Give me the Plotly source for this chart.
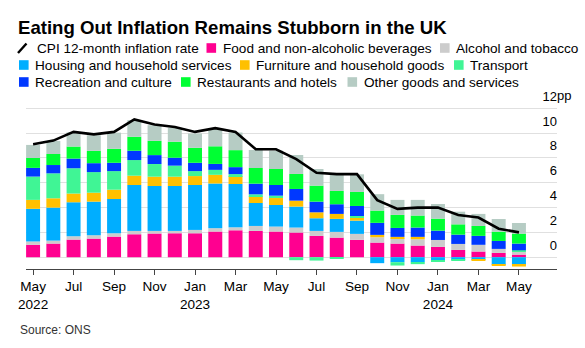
import plotly.graph_objects as go

# ---------------- data ----------------
months = ["May 2022", "Jun 2022", "Jul 2022", "Aug 2022", "Sep 2022", "Oct 2022", "Nov 2022",
          "Dec 2022", "Jan 2023", "Feb 2023", "Mar 2023", "Apr 2023", "May 2023", "Jun 2023",
          "Jul 2023", "Aug 2023", "Sep 2023", "Oct 2023", "Nov 2023", "Dec 2023", "Jan 2024",
          "Feb 2024", "Mar 2024", "Apr 2024", "May 2024"]

cpi = [9.1, 9.4, 10.1, 9.9, 10.1, 11.1, 10.7, 10.5, 10.1, 10.4, 10.1, 8.7, 8.7, 7.9, 6.8,
       6.7, 6.7, 4.6, 3.9, 4.0, 4.0, 3.4, 3.2, 2.3, 2.0]

food = [1.00, 1.10, 1.42, 1.50, 1.66, 1.85, 1.91, 1.93, 1.93, 2.07, 2.17, 2.12, 2.07, 1.99,
        1.72, 1.58, 1.40, 1.18, 1.10, 0.94, 0.83, 0.59, 0.46, 0.35, 0.21]
alcohol = [0.27, 0.24, 0.27, 0.27, 0.27, 0.27, 0.21, 0.19, 0.27, 0.27, 0.24, 0.40, 0.40, 0.40,
           0.40, 0.46, 0.48, 0.43, 0.43, 0.51, 0.56, 0.48, 0.54, 0.32, 0.25]
housing = [2.63, 2.66, 2.74, 2.71, 2.76, 3.70, 3.62, 3.62, 3.62, 3.60, 3.49, 1.85, 1.74, 1.69,
           1.02, 1.05, 1.07, -0.48, -0.40, -0.40, -0.27, -0.21, -0.21, -0.62, -0.62]
furniture = [0.72, 0.75, 0.70, 0.72, 0.75, 0.75, 0.75, 0.75, 0.72, 0.70, 0.64, 0.54, 0.56, 0.48,
             0.48, 0.40, 0.27, 0.19, 0.11, 0.19, 0.0, 0.0, -0.08, -0.08, -0.13]
transport = [1.88, 2.01, 2.04, 1.66, 1.50, 1.26, 1.02, 0.89, 0.40, 0.40, 0.16, 0.16, 0.19, -0.24,
             -0.27, -0.08, 0.10, 0.0, -0.27, -0.16, -0.05, -0.05, 0.0, 0.0, 0.10]
recreation = [0.70, 0.67, 0.78, 0.72, 0.67, 0.75, 0.72, 0.64, 0.67, 0.48, 0.56, 0.86, 0.86, 0.94,
              0.86, 0.78, 0.81, 0.97, 0.72, 0.75, 0.75, 0.75, 0.72, 0.64, 0.54]
restaurants = [0.80, 0.89, 0.97, 0.99, 1.13, 1.13, 1.15, 1.29, 1.21, 1.42, 1.37, 1.26, 1.29, 1.21,
               1.29, 1.07, 1.13, 0.99, 1.05, 0.97, 0.97, 0.83, 0.80, 0.75, 0.80]
other = [1.05, 1.05, 1.15, 1.26, 1.30, 1.34, 1.26, 1.13, 1.15, 1.40, 1.42, 1.45, 1.48, 1.53,
         1.34, 1.29, 1.42, 1.32, 1.21, 1.26, 1.18, 1.02, 0.97, 1.02, 0.86]

cpi_name = "CPI 12-month inflation rate"
series_names = ["Food and non-alcoholic beverages", "Alcohol and tobacco",
                "Housing and household services", "Furniture and household goods", "Transport",
                "Recreation and culture", "Restaurants and hotels", "Other goods and services"]
series_values = [food, alcohol, housing, furniture, transport, recreation, restaurants, other]
series_colors = ["#FF0090", "#CCCCCC", "#00AEFF", "#FFC000", "#40F595", "#0038FF", "#00FF33",
                 "#B6CCC4"]

y_ticks = [0, 2, 4, 6, 8, 10, 12]

# ---------------- layout geometry ----------------
W, H = 585, 348
L, R, T, B = 26, 28, 85, 79
PW, PH = W - L - R, H - T - B
FONT = "Liberation Sans, Arial, sans-serif"


def px_x(px):
    return (px - L) / PW


def px_y(py):
    return (H - B - py) / PH


idx = list(range(len(months)))

fig = go.Figure()
for name, vals, col in zip(series_names, series_values, series_colors):
    fig.add_trace(go.Bar(x=idx, y=vals, name=name, marker=dict(color=col, line=dict(width=0)),
                         width=0.69, showlegend=False))
fig.add_trace(go.Scatter(x=idx, y=cpi, name=cpi_name, mode="lines",
                         line=dict(color="#000000", width=2.6), showlegend=False))

# x tick labels
tickvals, ticktext = [], []
for i in range(0, len(months), 2):
    mon, yr = months[i].split()
    tickvals.append(i)
    ticktext.append(f"{mon}<br>{yr}" if (i == 0 or mon == "Jan") else mon)

annotations = []
shapes = []

# custom legend
legend_slots = [(18, 48), (206.5, 48), (440, 48), (19, 65), (240, 65), (454, 65),
                (19, 82), (181, 82), (347.5, 82)]
legend_entries = [(cpi_name, "#000000")] + list(zip(series_names, series_colors))
for k, ((name, col), (sx, sy)) in enumerate(zip(legend_entries, legend_slots)):
    if k == 0:
        shapes.append(dict(type="line", xref="paper", yref="paper",
                           x0=px_x(sx), y0=px_y(sy + 5), x1=px_x(sx + 8.5), y1=px_y(sy - 4.5),
                           line=dict(color=col, width=2.4)))
        tx = sx + 17
    else:
        shapes.append(dict(type="rect", xref="paper", yref="paper",
                           x0=px_x(sx), y0=px_y(sy + 4.8), x1=px_x(sx + 9.6), y1=px_y(sy - 4.8),
                           fillcolor=col, line=dict(width=0)))
        tx = sx + 14
    annotations.append(dict(text=name, xref="paper", yref="paper", x=px_x(tx), y=px_y(sy + 0.5),
                            xanchor="left", yanchor="middle", showarrow=False,
                            font=dict(family=FONT, size=13.6, color="#000000")))

# "pp" unit after the top tick label
annotations.append(dict(text="pp", xref="paper", yref="y", x=1.0, y=y_ticks[-1], xanchor="left",
                        yanchor="bottom", showarrow=False, xshift=-2, yshift=3,
                        font=dict(family=FONT, size=13, color="#000000")))

# source
annotations.append(dict(text="Source: ONS", xref="paper", yref="paper", x=px_x(18), y=px_y(330),
                        xanchor="left", yanchor="middle", showarrow=False,
                        font=dict(family=FONT, size=12, color="#333333")))

# gap in gridlines before the labels
shapes.append(dict(type="rect", xref="paper", yref="paper", x0=px_x(532), x1=px_x(539),
                   y0=px_y(268), y1=1.0, fillcolor="#FFFFFF", line=dict(width=0),
                   layer="between"))

fig.update_layout(
    width=W, height=H,
    margin=dict(l=L, r=R, t=T, b=B, pad=0),
    paper_bgcolor="#FFFFFF", plot_bgcolor="#FFFFFF",
    barmode="relative", bargap=0.31,
    font=dict(family=FONT, size=13.6, color="#000000"),
    title=dict(text="<b>Eating Out Inflation Remains Stubborn in the UK</b>",
               xref="container", yref="container", x=18 / W, y=1 - 27 / H,
               xanchor="left", yanchor="middle",
               font=dict(family=FONT, size=18.6, color="#000000")),
    xaxis=dict(range=[-0.35, 25.88], tickvals=tickvals, ticktext=ticktext, showgrid=False,
               zeroline=False, showline=True, linecolor="#444444", linewidth=1,
               ticks="outside", ticklen=5, tickcolor="#444444", tickwidth=1,
               tickfont=dict(family=FONT, size=13.6, color="#000000")),
    yaxis=dict(range=[-0.95, 13.88], side="right", tickvals=y_ticks,
               ticktext=[str(v) for v in y_ticks], ticklabelposition="inside top",
               ticklabelshift=-3, ticklabelstandoff=-3,
               showgrid=True, gridcolor="#E0E0E0", gridwidth=1, zeroline=False, showline=False,
               ticks="", tickfont=dict(family=FONT, size=13, color="#000000")),
    annotations=annotations,
    shapes=shapes,
)

fig.write_html("out.html")
